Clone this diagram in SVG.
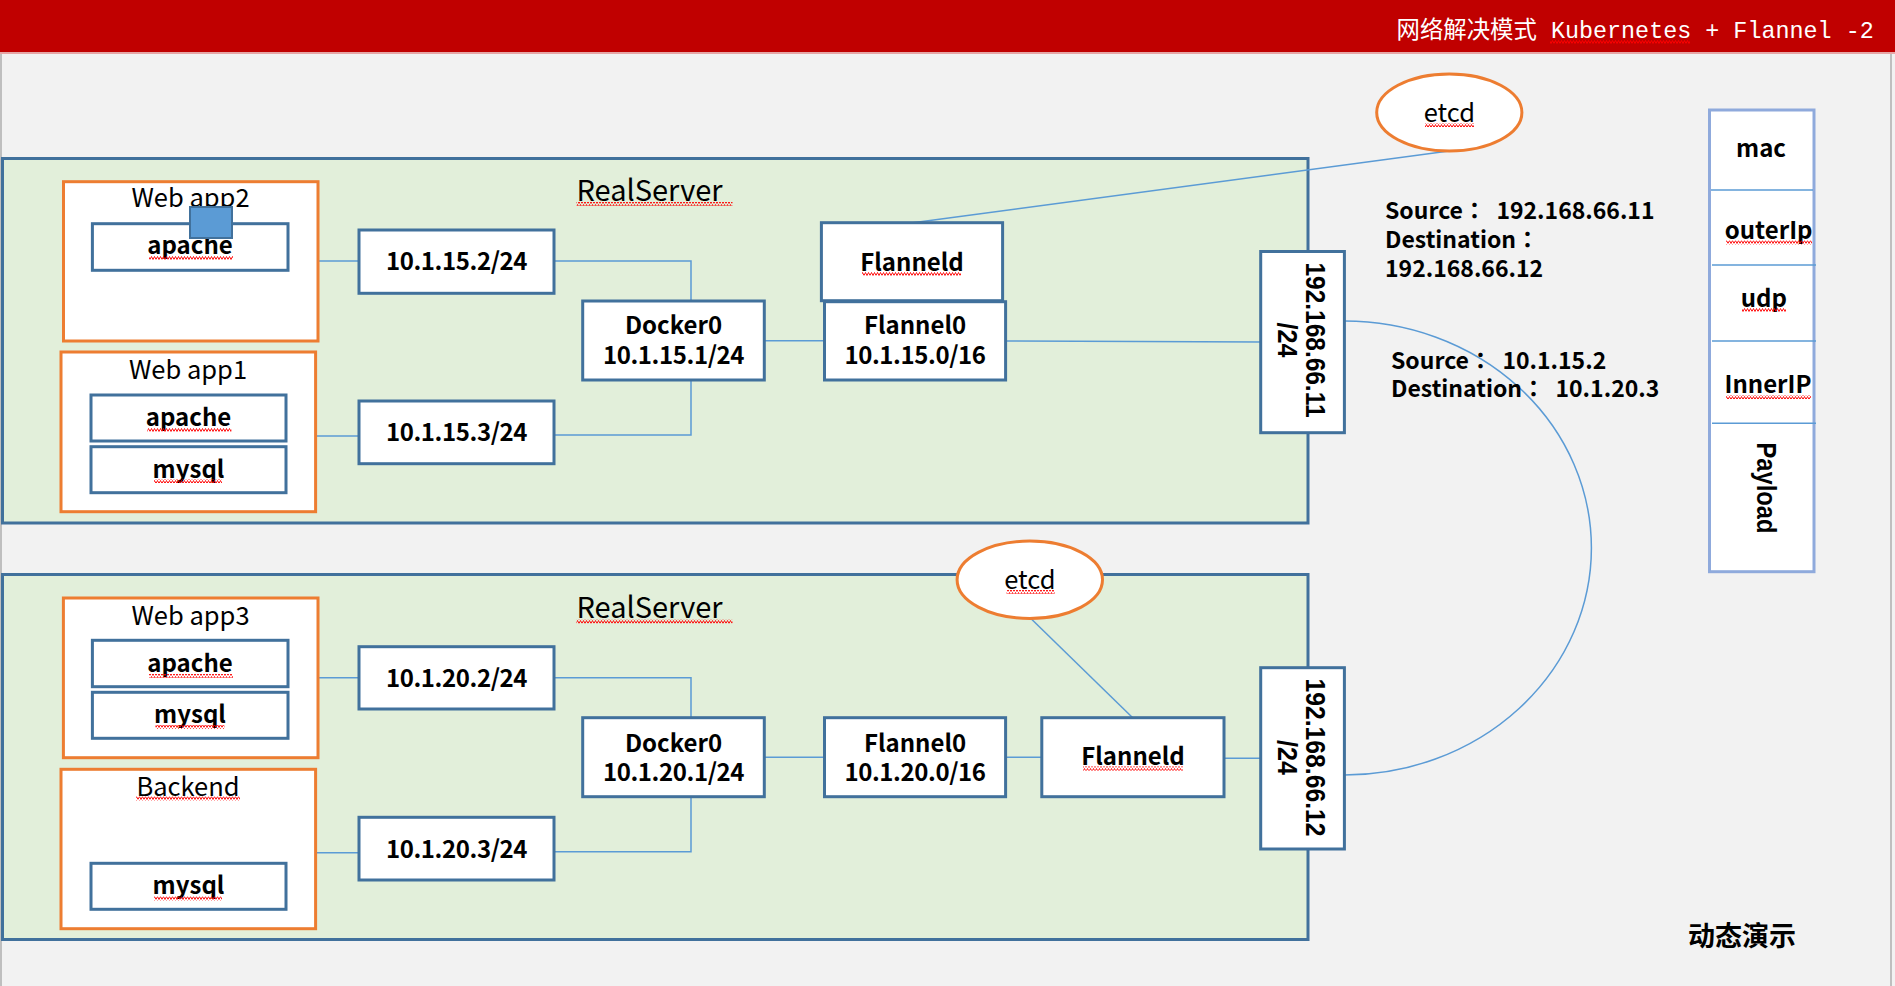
<svg xmlns="http://www.w3.org/2000/svg" width="1895" height="986" viewBox="0 0 1895 986">
<defs>
<pattern id="sq" width="6" height="4" patternUnits="userSpaceOnUse">
<path d="M0 3.5 L1.5 0.5 L3 3.5 L4.5 0.5 L6 3.5" fill="none" stroke="#FF0000" stroke-width="0.9"/>
</pattern>
<style>
.server{fill:#E2EFDA;stroke:#41719C;stroke-width:3}
.app{fill:#FFFFFF;stroke:#ED7D31;stroke-width:3}
.box{fill:#FFFFFF;stroke:#41719C;stroke-width:3}
.etcd{fill:#FFFFFF;stroke:#ED7D31;stroke-width:3}
.conn{fill:none;stroke:#5B9BD5;stroke-width:1.5}
.pkt{fill:#FFFFFF;stroke:#8FAADC;stroke-width:3}
.div{stroke:#5B9BD5;stroke-width:1.5}
.t{font-family:"Noto Sans CJK SC","Noto Sans",sans-serif;fill:#000000}
.reg{font-size:25.5px;text-anchor:middle}
.b{font-weight:bold;font-size:24px;text-anchor:middle}
.num{letter-spacing:-0.4px}
.rs{font-size:29px}
.info{font-family:"Noto Sans CJK JP","Noto Sans CJK SC",sans-serif;font-weight:bold;font-size:23px}
.ip{font-family:"Liberation Sans",Arial,sans-serif;font-weight:bold;font-size:28px;text-anchor:middle;fill:#000000}
.title{font-family:"Liberation Mono","Noto Sans CJK SC",monospace;font-size:23.4px;fill:#FFFFFF}
.sq{fill:url(#sq)}
</style>
</defs>

<rect x="0" y="0" width="1895" height="986" fill="#F2F2F2"/>
<rect x="0" y="0" width="1895" height="52" fill="#C00000"/>
<rect x="0" y="52" width="1895" height="2" fill="#E6A6A6"/>
<line x1="1" y1="54" x2="1" y2="986" stroke="#BFBFBF" stroke-width="2"/>
<line x1="1891" y1="54" x2="1891" y2="986" stroke="#BFBFBF" stroke-width="2"/>
<text class="title" x="1396.5" y="38" xml:space="preserve">网络解决模式 Kubernetes + Flannel -2</text>
<rect class="sq" x="1550" y="40" width="140" height="4"/>

<g id="server1">
<rect class="server" x="2.5" y="158.5" width="1305.5" height="364.5"/>
<text class="t rs" x="576.5" y="200.7">RealServer</text>
<rect class="sq" x="576.5" y="202" width="156" height="4"/>
</g>
<g id="server2">
<rect class="server" x="2.5" y="574.5" width="1305.5" height="365"/>
<text class="t rs" x="576.5" y="618.3">RealServer</text>
<rect class="sq" x="576.5" y="619.5" width="156" height="4"/>
</g>

<g id="connectors">
<path class="conn" d="M318 261 H359"/>
<path class="conn" d="M315.6 436 H359"/>
<path class="conn" d="M554 261 H691 V301"/>
<path class="conn" d="M554 435 H691 V380"/>
<path class="conn" d="M764.3 340.7 H824.5"/>
<path class="conn" d="M1005.6 341 L1260.7 342"/>
<path class="conn" d="M1449 151 L913 222.7"/>
<path class="conn" d="M318 677.7 H359"/>
<path class="conn" d="M315.6 852.7 H359"/>
<path class="conn" d="M554 677.7 H691 V717.7"/>
<path class="conn" d="M554 851.7 H691 V796.7"/>
<path class="conn" d="M764.3 757.3 H824.5"/>
<path class="conn" d="M1005.6 757.3 H1041.8"/>
<path class="conn" d="M1224 758.3 H1260.7"/>
<path class="conn" d="M1030.6 618.3 L1132.7 717.7"/>
<path class="conn" d="M1344.4 321 A247 227 0 0 1 1344.4 775"/>
</g>

<g id="webapp2">
<rect class="app" x="63.5" y="181.7" width="254.5" height="159.3"/>
<text class="t reg" x="190.5" y="207.3">Web app2</text>
<rect class="box" x="92.4" y="223.7" width="195.6" height="46.6"/>
<text class="t b" x="190" y="254">apache</text>
<rect class="sq" x="149" y="256" width="84" height="4"/>
<rect x="190" y="207" width="42" height="31" fill="#5B9BD5" stroke="#41719C" stroke-width="2"/>
</g>

<g id="webapp1">
<rect class="app" x="61" y="352" width="254.6" height="159.7"/>
<text class="t reg" x="188" y="379">Web app1</text>
<rect class="box" x="91" y="395" width="195" height="46"/>
<text class="t b" x="188.5" y="426">apache</text>
<rect class="sq" x="147.4" y="428" width="84" height="4"/>
<rect class="box" x="91" y="446.7" width="195" height="46"/>
<text class="t b" x="188.5" y="477.7">mysql</text>
<rect class="sq" x="154" y="479" width="68" height="4"/>
</g>

<g id="ip-10-1-15-2">
<rect class="box" x="359" y="230" width="195" height="63.3"/>
<text class="t b num" x="456.5" y="270">10.1.15.2/24</text>
</g>
<g id="ip-10-1-15-3">
<rect class="box" x="359" y="401" width="195" height="62.7"/>
<text class="t b num" x="456.5" y="441">10.1.15.3/24</text>
</g>

<g id="docker0-1">
<rect class="box" x="582.7" y="301" width="181.6" height="79"/>
<text class="t b"><tspan x="673.5" y="334">Docker0</tspan><tspan class="num" x="673.5" y="364">10.1.15.1/24</tspan></text>
</g>
<g id="flanneld-1">
<rect class="box" x="821.4" y="222.7" width="181.2" height="78"/>
<text class="t b" x="912" y="270.7">Flanneld</text>
<rect class="sq" x="862" y="272" width="99" height="4"/>
</g>
<g id="flannel0-1">
<rect class="box" x="824.5" y="301.7" width="181.1" height="78.3"/>
<text class="t b"><tspan x="915" y="334">Flannel0</tspan><tspan class="num" x="915" y="364">10.1.15.0/16</tspan></text>
</g>
<g id="eth-1">
<rect class="box" x="1260.7" y="251.5" width="83.7" height="181.2"/>
<text class="ip" transform="translate(1306 340) rotate(90)"><tspan x="0" y="0" textLength="155" lengthAdjust="spacingAndGlyphs">192.168.66.11</tspan><tspan x="0" y="28" textLength="35" lengthAdjust="spacingAndGlyphs">/24</tspan></text>
</g>
<g id="etcd-1">
<ellipse class="etcd" cx="1449.3" cy="112.5" rx="72.6" ry="38.5"/>
<text class="t reg" x="1449.3" y="121.7">etcd</text>
<rect class="sq" x="1425" y="123" width="49" height="4"/>
</g>

<g id="webapp3">
<rect class="app" x="63.4" y="598" width="254.6" height="159.7"/>
<text class="t reg" x="190.5" y="625">Web app3</text>
<rect class="box" x="92.4" y="640.3" width="195.6" height="46.4"/>
<text class="t b" x="190" y="672.3">apache</text>
<rect class="sq" x="149" y="674" width="84" height="4"/>
<rect class="box" x="92.4" y="692.3" width="195.6" height="46"/>
<text class="t b" x="190" y="723.3">mysql</text>
<rect class="sq" x="155.4" y="725" width="69" height="4"/>
</g>

<g id="backend">
<rect class="app" x="61" y="769.3" width="254.6" height="159.4"/>
<text class="t reg" x="188" y="795.7">Backend</text>
<rect class="sq" x="136" y="796.5" width="104" height="4"/>
<rect class="box" x="91" y="863.3" width="195" height="46"/>
<text class="t b" x="188.5" y="894.3">mysql</text>
<rect class="sq" x="154" y="896.5" width="68" height="4"/>
</g>

<g id="ip-10-1-20-2">
<rect class="box" x="359" y="646.7" width="195" height="62.3"/>
<text class="t b num" x="456.5" y="686.7">10.1.20.2/24</text>
</g>
<g id="ip-10-1-20-3">
<rect class="box" x="359" y="817.3" width="195" height="62.7"/>
<text class="t b num" x="456.5" y="857.7">10.1.20.3/24</text>
</g>

<g id="docker0-2">
<rect class="box" x="582.7" y="717.7" width="181.6" height="79"/>
<text class="t b"><tspan x="673.5" y="751.7">Docker0</tspan><tspan class="num" x="673.5" y="780.5">10.1.20.1/24</tspan></text>
</g>
<g id="flannel0-2">
<rect class="box" x="824.5" y="717.7" width="181.1" height="79"/>
<text class="t b"><tspan x="915" y="751.7">Flannel0</tspan><tspan class="num" x="915" y="780.5">10.1.20.0/16</tspan></text>
</g>
<g id="flanneld-2">
<rect class="box" x="1041.8" y="717.7" width="182.2" height="79"/>
<text class="t b" x="1133" y="765">Flanneld</text>
<rect class="sq" x="1083" y="766.5" width="100" height="4"/>
</g>
<g id="eth-2">
<rect class="box" x="1260.7" y="667.7" width="83.7" height="181.3"/>
<text class="ip" transform="translate(1306 757.5) rotate(90)"><tspan x="0" y="0" textLength="158" lengthAdjust="spacingAndGlyphs">192.168.66.12</tspan><tspan x="0" y="28" textLength="35" lengthAdjust="spacingAndGlyphs">/24</tspan></text>
</g>
<g id="etcd-2">
<ellipse class="etcd" cx="1029.8" cy="579.7" rx="72.7" ry="38.7"/>
<text class="t reg" x="1029.8" y="589.3">etcd</text>
<rect class="sq" x="1006.6" y="590" width="48" height="4"/>
</g>

<g id="info-outer">
<text class="t info" xml:space="preserve"><tspan x="1385" y="219.3">Source：  192.168.66.11</tspan><tspan x="1385" y="248.3">Destination：</tspan><tspan x="1385" y="276.5">192.168.66.12</tspan></text>
</g>
<g id="info-inner">
<text class="t info" xml:space="preserve"><tspan x="1391" y="369.3">Source：  10.1.15.2</tspan><tspan x="1391" y="397.3">Destination：  10.1.20.3</tspan></text>
</g>

<g id="packet">
<rect class="pkt" x="1709.5" y="110" width="104.5" height="461.7"/>
<line class="div" x1="1711" y1="190" x2="1813" y2="190"/>
<line class="div" x1="1712" y1="265" x2="1816" y2="265"/>
<line class="div" x1="1712" y1="341" x2="1816" y2="341"/>
<line class="div" x1="1712" y1="423.3" x2="1816" y2="423.3"/>
<text class="t b" x="1761" y="156.7">mac</text>
<text class="t b" x="1768.7" y="239">outerIp</text>
<rect class="sq" x="1726" y="240.5" width="86" height="4"/>
<text class="t b" x="1763.8" y="306.7">udp</text>
<rect class="sq" x="1742" y="308" width="44" height="4"/>
<text class="t b" x="1768" y="393.3">InnerIP</text>
<rect class="sq" x="1726" y="395" width="85" height="4"/>
<text class="ip" transform="translate(1757 488) rotate(90)" x="0" y="0" textLength="91" lengthAdjust="spacingAndGlyphs">Payload</text>
</g>

<text class="t" x="1688" y="945.7" font-size="27" font-weight="bold">动态演示</text>
</svg>
